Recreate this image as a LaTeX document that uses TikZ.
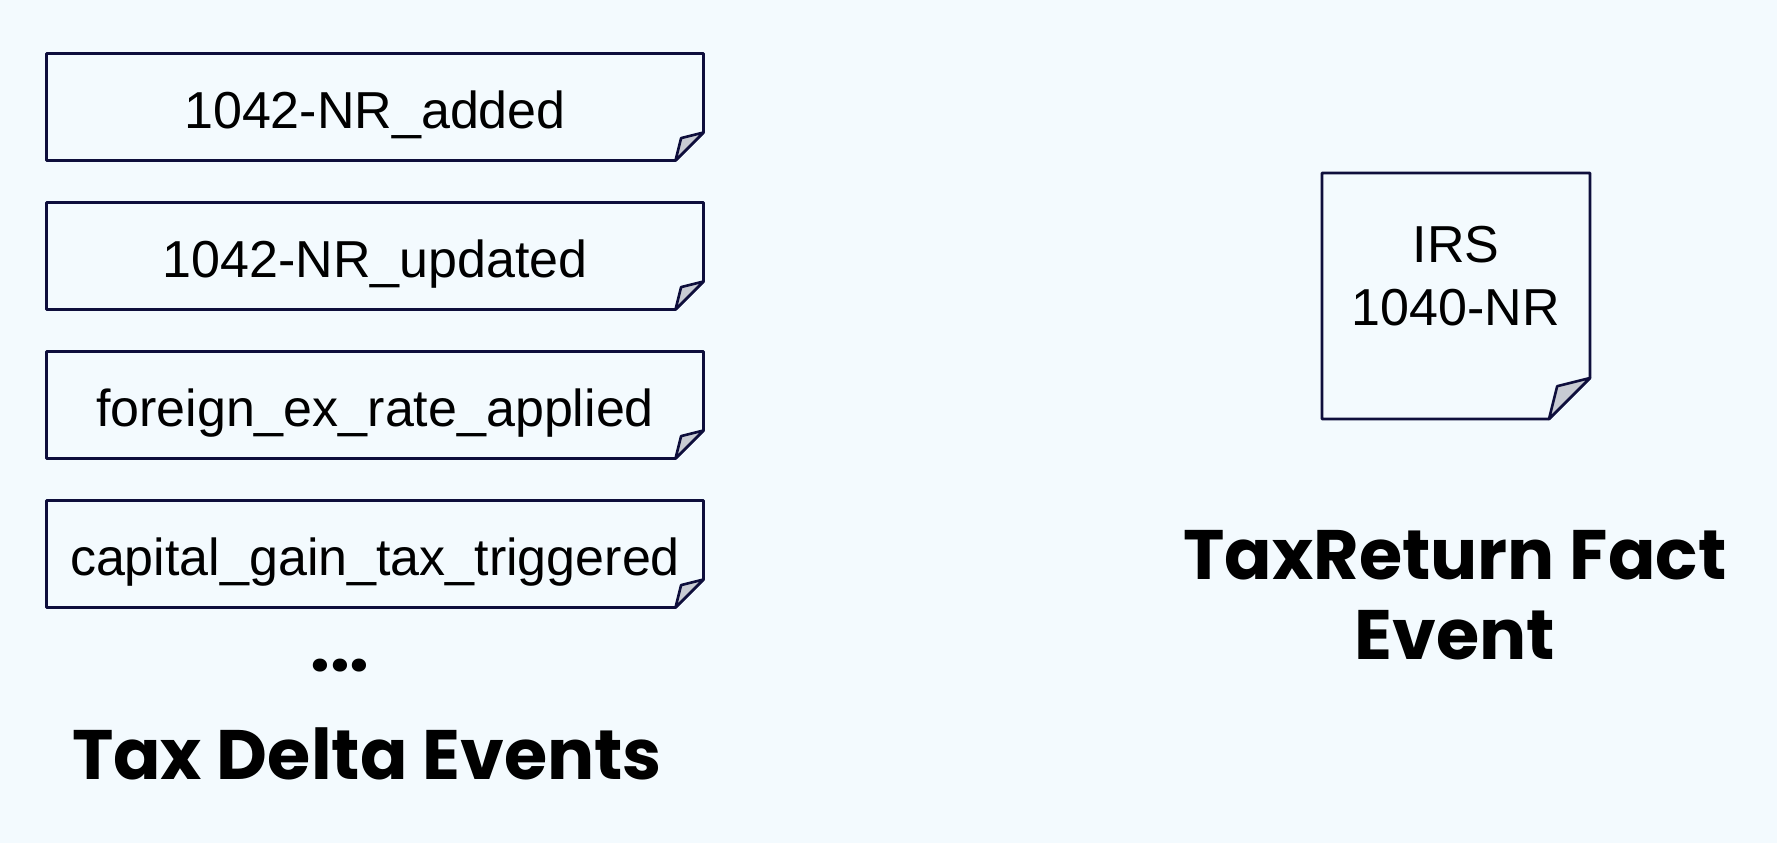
\documentclass[tikz,border=0pt]{standalone}
\usepackage{fontspec}
\setmainfont{Liberation Sans}
\newfontfamily\headfont{Poppins}
\definecolor{pagebg}{HTML}{F3FAFE}
\definecolor{noteline}{HTML}{0E0E3C}
\definecolor{notefold}{HTML}{C8CBD3}

% outline of a note with a turned-up lower right corner
\newcommand\drawnote[2]{%
  \draw[noteline, line width=2.6pt, line join=round]
    (#1.north west) -- (#1.north east) -- ([yshift=#2]#1.south east)
    -- ([xshift=-#2]#1.south east) -- (#1.south west) -- cycle;
  \draw[noteline, fill=notefold, line width=2.6pt, line join=round]
    ([xshift=-#2]#1.south east) -- ([xshift=-0.8*#2, yshift=0.8*#2]#1.south east)
    -- ([yshift=#2]#1.south east) -- cycle;
}

\begin{document}
\begin{tikzpicture}[
    x=1pt, y=-1pt,
    note/.style={
        rectangle, outer sep=0pt, inner sep=0pt, align=center,
        font=\fontsize{52}{63}\selectfont
    },
    delta/.style={note, minimum width=657pt, minimum height=107pt,
        text height=42pt, text depth=0pt},
    fact/.style={note, minimum width=268pt, minimum height=246pt},
    heading/.style={font=\headfont\bfseries\fontsize{70}{80}\selectfont, align=center},
]

    % page
    \fill[pagebg] (0,0) rectangle (1777,843);

    % Column x-coordinates.
    \def\xDelta{375}
    \def\xFact{1456}

    % ---------- Tax delta events (left column) ----------
    \node[delta] (added) at (\xDelta, 107) {1042-NR\_added};
    \node[delta] (updated) at (\xDelta, 256) {1042-NR\_updated};
    \node[delta] (fxrate) at (\xDelta, 405) {foreign\_ex\_rate\_applied};
    \node[delta] (capgain) at (\xDelta, 554) {capital\_gain\_tax\_triggered};

    \drawnote{added}{28pt}
    \drawnote{updated}{28pt}
    \drawnote{fxrate}{28pt}
    \drawnote{capgain}{28pt}

    \node[heading] (more) at (340, 666) {...};
    \node[heading] (delta-header) at (367, 754) {Tax Delta Events};

    % ---------- Tax return fact event (right column) ----------
    \node[fact] (irs) at (\xFact, 296) {};
    \node[note] (irs-text) at ([yshift=20pt]irs.center) {IRS\\1040-NR};
    \drawnote{irs}{41pt}

    \node[heading] (fact-header) at (1455, 595) {TaxReturn Fact\\Event};

\end{tikzpicture}
\end{document}
